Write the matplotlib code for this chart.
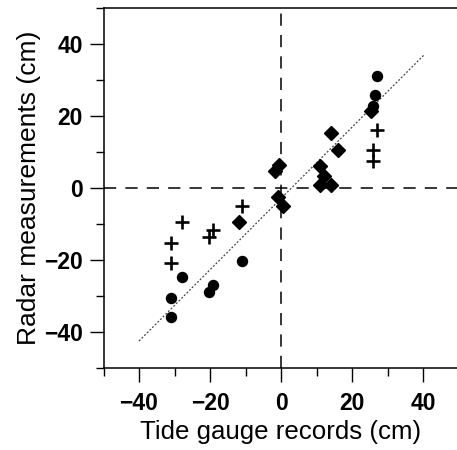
import matplotlib.pyplot as plt
import numpy as np

plt.rcParams['font.family'] = ['Liberation Sans', 'DejaVu Sans']

# circles
circ_x = [27.0, 26.5, 26.0, -27.9, -31.0, -31.0, -19.1, -20.3, -11.0]
circ_y = [31.2, 25.8, 22.8, -24.7, -30.6, -35.8, -26.9, -28.8, -20.3]

# plus signs
plus_x = [27.0, 26.0, 26.0, -27.9, -31.0, -31.0, -19.2, -20.3, -11.0]
plus_y = [16.1, 10.6, 7.5, -9.4, -15.4, -20.9, -11.8, -13.7, -5.0]

# diamonds
diam_x = [14.0, 16.0, 11.1, 12.0, 11.0, 14.1, -1.7, -0.5, 25.3, -1.0, 0.5, -11.8]
diam_y = [15.2, 10.6, 6.1, 3.4, 0.8, 0.8, 4.7, 6.4, 21.4, -2.4, -5.0, -9.5]

# fitted line
fit_x = [-40, 40.3]
fit_y = [-42.5, 37.0]

fig = plt.figure(figsize=(4.57, 4.5), dpi=100)
ax = fig.add_axes([0.2265, 0.1822, 0.777, 0.80])

ax.axhline(0, color='black', lw=1.1, ls=(0, (8, 6)), zorder=1)
ax.axvline(0, color='black', lw=1.1, ls=(0, (8, 6)), zorder=1)
ax.plot(fit_x, fit_y, color='#444444', lw=0.9, ls=(0, (1.5, 1.5)), zorder=2)

ax.plot(circ_x, circ_y, 'o', color='black', ms=7.2, zorder=3)
ax.plot(plus_x, plus_y, '+', color='black', ms=10.5, mew=1.9, zorder=3)
ax.plot(diam_x, diam_y, 'D', color='black', ms=7.5, zorder=3)

ax.set_xlim(-50, 50)
ax.set_ylim(-50, 50)
ax.set_xticks([-40, -20, 0, 20, 40])
ax.set_yticks([-40, -20, 0, 20, 40])
ax.set_xticks(np.arange(-50, 51, 10), minor=True)
ax.set_yticks(np.arange(-50, 51, 10), minor=True)
ax.tick_params(which='major', direction='out', length=10, width=1,
               labelsize=16.5)
ax.tick_params(axis='x', which='major', pad=7)
ax.tick_params(axis='y', which='major', pad=5)
ax.tick_params(which='minor', direction='out', length=6, width=1)
for lab in ax.get_xticklabels() + ax.get_yticklabels():
    lab.set_fontweight('bold')

ax.set_xlabel('Tide gauge records (cm)', fontsize=18.6, labelpad=4)
ax.set_ylabel('Radar measurements (cm)', fontsize=19, labelpad=2)

ax.spines['right'].set_visible(False)
for s in ax.spines.values():
    s.set_linewidth(1.1)

plt.savefig('out.png', dpi=100)
